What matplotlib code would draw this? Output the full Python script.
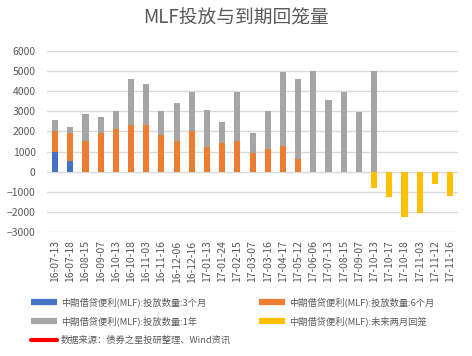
import matplotlib.pyplot as plt
from matplotlib.lines import Line2D
import numpy as np

plt.rcParams['font.family'] = ['Noto Sans CJK SC', 'DejaVu Sans']

dates = ["16-07-13", "16-07-18", "16-08-15", "16-09-07", "16-10-13", "16-10-18",
         "16-11-03", "16-11-16", "16-12-06", "16-12-16", "17-01-13", "17-01-24",
         "17-02-15", "17-03-07", "17-03-16", "17-04-17", "17-05-12", "17-06-06",
         "17-07-13", "17-08-15", "17-09-07", "17-10-13", "17-10-17", "17-10-18",
         "17-11-03", "17-11-12", "17-11-16"]
n = len(dates)

# segment sizes of the stacked bars (3M at bottom, then 6M, then 1Y)
m3 = [1000, 550] + [0] * (n - 2)
m6 = [1000, 1360, 1510, 1940, 2120, 2340, 2310, 1810, 1510, 2040, 1240, 1410,
      1510, 910, 1140, 1290, 650] + [0] * (n - 17)
y1 = [590, 330, 1380, 800, 880, 2240, 2040, 1190, 1890, 1910, 1810, 1040,
      2440, 1030, 1890, 3640, 3930, 5000, 3580, 3980, 2990, 5000] + [0] * (n - 22)
due = [0] * 21 + [-830, -1280, -2270, -2040, -630, -1230]

c_blue = "#4472C4"
c_orange = "#ED7D31"
c_gray = "#A5A5A5"
c_yellow = "#FFC000"
txt = "#595959"

fig = plt.figure(figsize=(4.72, 3.56), dpi=100)
ax = fig.add_axes([0.1006, 0.348, 0.869, 0.509])

x = np.arange(n)
w = 0.4
m3 = np.array(m3)
m6 = np.array(m6)
ax.bar(x, m3, w, color=c_blue, zorder=3)
ax.bar(x, m6, w, bottom=m3, color=c_orange, zorder=3)
ax.bar(x, y1, w, bottom=m3 + m6, color=c_gray, zorder=3)
ax.bar(x, due, w, color=c_yellow, zorder=3)

ax.set_xlim(-0.5, n - 0.5)
ax.set_ylim(-3000, 6000)
ax.set_yticks(range(-3000, 6001, 1000))
ax.yaxis.grid(True, color="#D9D9D9", linewidth=1)
ax.set_axisbelow(True)
for s in ax.spines.values():
    s.set_visible(False)
ax.set_xticks(x)
ax.set_xticklabels(dates, rotation=90)
ax.tick_params(axis='x', length=0, pad=6, labelsize=7.5, labelcolor=txt)
ax.tick_params(axis='y', length=0, pad=8.5, labelsize=7.5, labelcolor=txt)

fig.text(0.5, 0.95, "MLF投放与到期回笼量", ha='center', va='center',
         fontsize=13.5, color=txt)

handles = [
    Line2D([], [], color=c_blue, lw=4.5, solid_capstyle='butt'),
    Line2D([], [], color=c_gray, lw=4.5, solid_capstyle='butt'),
    Line2D([], [], color='red', lw=3, solid_capstyle='round'),
    Line2D([], [], color=c_orange, lw=4.5, solid_capstyle='butt'),
    Line2D([], [], color=c_yellow, lw=4.5, solid_capstyle='butt'),
]
labels = [
    "中期借贷便利(MLF):投放数量:3个月",
    "中期借贷便利(MLF):投放数量:1年",
    "数据来源：债券之星投研整理、Wind资讯",
    "中期借贷便利(MLF):投放数量:6个月",
    "中期借贷便利(MLF):未来两月回笼",
]
fig.legend(handles, labels, loc='upper left', bbox_to_anchor=(0.066, 0.165),
           ncol=2, frameon=False, fontsize=6.7, labelcolor=txt,
           handlelength=2.8, handletextpad=0.4, columnspacing=3.0,
           labelspacing=1.0, borderpad=0, borderaxespad=0)

fig.savefig("out.png", dpi=100)
